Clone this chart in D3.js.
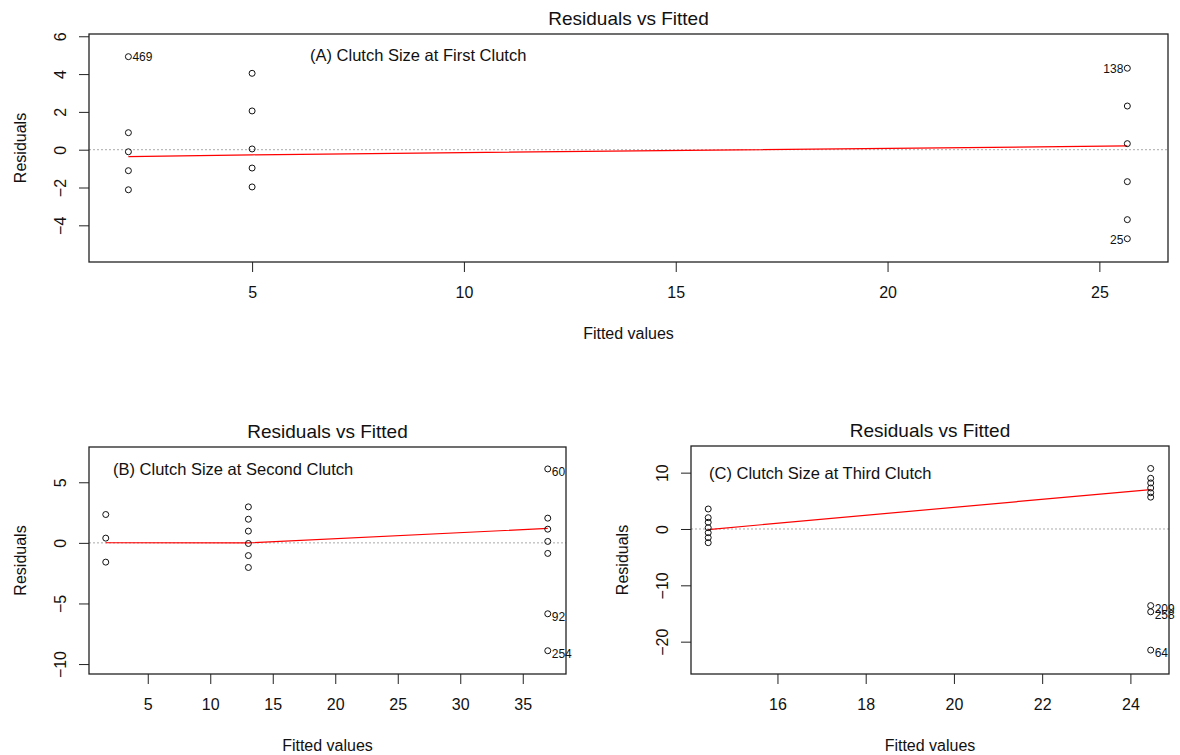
<!DOCTYPE html>
<html>
<head>
<meta charset="utf-8">
<script src="https://cdn.jsdelivr.net/npm/d3@7"></script>
<style>
body { margin: 0; background: #fff; }
svg text { font-family: "Liberation Sans", Arial, sans-serif; fill: #111; }
</style>
</head>
<body>
<div id="chart"></div>
<script>
var w = 1180;
var h = 755;

// (A) first clutch
var fittedA = [2.08, 5.0, 25.66];
var residA = [[4.92, 0.9, -0.11, -1.11, -2.12],
              [4.04, 2.05, 0.04, -0.97, -1.97],
              [4.31, 2.31, 0.32, -1.69, -3.7, -4.71]];
var smoothA = [-0.37, -0.27, 0.2];
var idsA = [[0, 0, "469"], [2, 0, "138"], [2, 5, "25"]];
var xTicksA = [5, 10, 15, 20, 25];
var yTicksA = [-4, -2, 0, 2, 4, 6];
var xLimA = [1.15, 26.62];
var yLimA = [-5.94, 6.12];

// (B) second clutch
var fittedB = [1.64, 13.05, 37.0];
var residB = [[2.34, 0.39, -1.59],
              [2.97, 1.95, 0.97, -0.05, -1.05, -2.03],
              [6.1, 2.04, 1.13, 0.12, -0.87, -5.85, -8.9]];
var smoothB = [0.01, 0.0, 1.19];
var idsB = [[2, 0, "60"], [2, 5, "92"], [2, 6, "254"]];
var xTicksB = [5, 10, 15, 20, 25, 30, 35];
var yTicksB = [-10, -5, 0, 5];
var xLimB = [0.3, 38.46];
var yLimB = [-10.82, 7.91];

// (C) third clutch
var fittedC = [14.43, 24.46];
var residC = [[3.55, 2.0, 1.19, 0.23, -0.66, -1.54, -2.43],
              [10.74, 9.0, 8.17, 7.28, 6.44, 5.65, -13.6, -14.7, -21.5]];
var smoothC = [-0.1, 7.0];
var idsC = [[1, 6, "209"], [1, 7, "258"], [1, 8, "64"]];
var xTicksC = [16, 18, 20, 22, 24];
var yTicksC = [-20, -10, 0, 10];
var xLimC = [14.04, 24.875];
var yLimC = [-25.74, 14.73];

var svg = d3.select("#chart").append("svg")
            .attr("width", w)
            .attr("height", h);

var drawPanel = function(p) {
  var box = p.box;
  var x = d3.scaleLinear().domain(p.xlim).range([box.left, box.right]);
  var y = d3.scaleLinear().domain(p.ylim).range([box.bottom, box.top]);
  var g = svg.append("g");

  // dotted zero line
  g.append("line")
   .attr("x1", box.left).attr("x2", box.right)
   .attr("y1", y(0)).attr("y2", y(0))
   .attr("stroke", "#aaa")
   .attr("stroke-dasharray", "2,2");

  // smoother
  var pts = p.fitted.map(function(f, i) { return [f, p.smooth[i]]; });
  g.append("path")
   .attr("d", d3.line().x(function(d) { return x(d[0]); })
                       .y(function(d) { return y(d[1]); })(pts))
   .attr("fill", "none")
   .attr("stroke", "red")
   .attr("stroke-width", 1.2);

  // residual points
  var flat = [];
  p.resid.forEach(function(arr, gi) {
    arr.forEach(function(r) { flat.push({x: p.fitted[gi], y: r}); });
  });
  g.selectAll("circle")
   .data(flat)
   .enter()
   .append("circle")
   .attr("cx", function(d) { return x(d.x); })
   .attr("cy", function(d) { return y(d.y); })
   .attr("r", 3)
   .attr("fill", "none")
   .attr("stroke", "#111")
   .attr("stroke-width", 1);

  // point ids, right of point if in the left half of the labelled range
  var idX = p.ids.map(function(d) { return p.fitted[d[0]]; });
  var mid = (d3.min(idX) + d3.max(idX)) / 2;
  g.selectAll("text.id")
   .data(p.ids)
   .enter()
   .append("text")
   .attr("class", "id")
   .attr("x", function(d) {
     var fx = p.fitted[d[0]];
     return fx > mid ? x(fx) - 4 : x(fx) + 4;
   })
   .attr("y", function(d) { return y(p.resid[d[0]][d[1]]); })
   .attr("dy", p.idDy)
   .attr("text-anchor", function(d) { return p.fitted[d[0]] > mid ? "end" : "start"; })
   .style("font-size", "12px")
   .text(function(d) { return d[2]; });

  // axes
  var xAxis = g.append("g")
    .attr("transform", "translate(0," + box.bottom + ")")
    .call(d3.axisBottom(x).tickValues(p.xTicks).tickSize(10).tickSizeOuter(0).tickPadding(15));
  var yAxis = g.append("g")
    .attr("transform", "translate(" + box.left + ",0)")
    .call(d3.axisLeft(y).tickValues(p.yTicks).tickSize(10).tickSizeOuter(0));
  [xAxis, yAxis].forEach(function(a) {
    a.attr("font-family", null).attr("font-size", null);
    a.select(".domain").remove();
    a.selectAll(".tick line").attr("stroke", "#222");
    a.selectAll("text").style("font-size", "16px").attr("fill", "#111");
  });
  yAxis.selectAll("text")
    .attr("x", null)
    .attr("dy", "0.35em")
    .attr("text-anchor", "middle")
    .attr("transform", "translate(-29,0) rotate(-90)");

  // box
  g.append("rect")
   .attr("x", box.left).attr("y", box.top)
   .attr("width", box.right - box.left)
   .attr("height", box.bottom - box.top)
   .attr("fill", "none")
   .attr("stroke", "#222")
   .attr("stroke-width", 1.3);

  // titles
  var cx = (box.left + box.right) / 2;
  g.append("text")
   .attr("x", cx).attr("y", box.top - 9)
   .attr("text-anchor", "middle")
   .style("font-size", "19px")
   .text("Residuals vs Fitted");
  g.append("text")
   .attr("x", p.subX).attr("y", p.subY)
   .style("font-size", "16.5px")
   .text(p.sub);
  g.append("text")
   .attr("x", cx).attr("y", box.bottom + 71)
   .attr("dy", "0.35em")
   .attr("text-anchor", "middle")
   .style("font-size", "16px")
   .text("Fitted values");
  g.append("text")
   .attr("transform", "translate(" + (box.left - 69) + "," + ((box.top + box.bottom) / 2) + ") rotate(-90)")
   .attr("dy", "0.35em")
   .attr("text-anchor", "middle")
   .style("font-size", "16px")
   .text("Residuals");
};

drawPanel({
  box: {left: 89, right: 1168, top: 34, bottom: 262},
  fitted: fittedA, resid: residA, smooth: smoothA, ids: idsA,
  xTicks: xTicksA, yTicks: yTicksA, xlim: xLimA, ylim: yLimA,
  sub: "(A) Clutch Size at First Clutch", subX: 310, subY: 61, idDy: "0.4em"
});
drawPanel({
  box: {left: 89, right: 566, top: 447, bottom: 674},
  fitted: fittedB, resid: residB, smooth: smoothB, ids: idsB,
  xTicks: xTicksB, yTicks: yTicksB, xlim: xLimB, ylim: yLimB,
  sub: "(B) Clutch Size at Second Clutch", subX: 113, subY: 475, idDy: "0.6em"
});
drawPanel({
  box: {left: 691, right: 1169, top: 446, bottom: 674},
  fitted: fittedC, resid: residC, smooth: smoothC, ids: idsC,
  xTicks: xTicksC, yTicks: yTicksC, xlim: xLimC, ylim: yLimC,
  sub: "(C) Clutch Size at Third Clutch", subX: 709, subY: 479, idDy: "0.6em"
});
</script>
</body>
</html>
